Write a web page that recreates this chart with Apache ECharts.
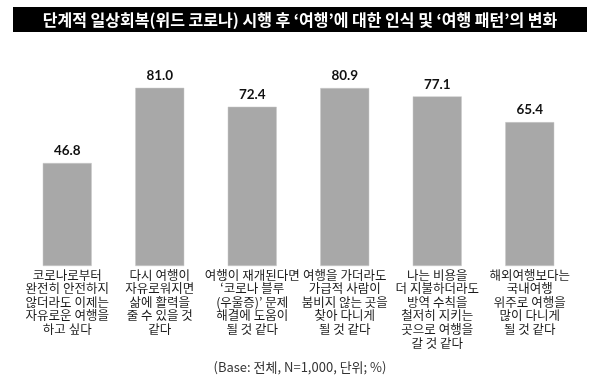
<!DOCTYPE html>
<html><head><meta charset="utf-8">
<script src="https://cdn.jsdelivr.net/npm/echarts@6/dist/echarts.min.js"></script>
<style>html,body{margin:0;padding:0;background:#fff}#c{width:600px;height:384px}</style>
</head><body><div id="c"></div>
<script>
const titleText = "단계적 일상회복(위드 코로나) 시행 후 ‘여행’에 대한 인식 및 ‘여행 패턴’의 변화";
const noteText = "(Base: 전체, N=1,000, 단위; %)";
const categories = [
  "코로나로부터\n완전히 안전하지\n않더라도 이제는\n자유로운 여행을\n하고 싶다",
  "다시 여행이\n자유로워지면\n삶에 활력을\n줄 수 있을 것\n같다",
  "여행이 재개된다면\n‘코로나 블루\n(우울증)’ 문제\n해결에 도움이\n될 것 같다",
  "여행을 가더라도\n가급적 사람이\n붐비지 않는 곳을\n찾아 다니게\n될 것 같다",
  "나는 비용을\n더 지불하더라도\n방역 수칙을\n철저히 지키는\n곳으로 여행을\n갈 것 같다",
  "해외여행보다는\n국내여행\n위주로 여행을\n많이 다니게\n될 것 같다"
];
const values = [46.8, 81.0, 72.4, 80.9, 77.1, 65.4];

const FONT = '"Noto Sans CJK KR", sans-serif';
const chart = echarts.init(document.getElementById('c'), null, {renderer:'canvas'});
chart.setOption({
  animation: false,
  backgroundColor: '#fff',
  graphic: [{
    type: 'rect', shape: {x: 13, y: 7, width: 574, height: 25}, style: {fill: '#000'}, z: 0
  }, {
    type: 'text', left: 'center', top: 361,
    style: {text: noteText, fill: '#333', fontSize: 13, fontFamily: FONT}
  }],
  title: {
    text: titleText, left: 'center', top: 9, padding: 0,
    textStyle: {color: '#fff', fontSize: 16, fontWeight: 'bold', fontFamily: FONT, lineHeight: 21}
  },
  grid: {left: 21, right: 24, top: 46, bottom: 118, containLabel: false},
  xAxis: {
    type: 'category', data: categories,
    axisLine: {show: false}, axisTick: {show: false},
    axisLabel: {interval: 0, margin: 2, color: '#1a1a1a', fontSize: 12.5, lineHeight: 13.6,
      fontFamily: FONT, verticalAlign: 'top'}
  },
  yAxis: {type: 'value', min: 0, max: 100, show: false, splitLine: {show: false}},
  series: [{
    type: 'bar', data: values, barWidth: 49,
    itemStyle: {color: '#a8a8a8', borderColor: '#c8c8c8', borderWidth: 0.5},
    label: {show: true, position: 'top', distance: 5, color: '#111', fontSize: 13.5, fontWeight: 'bold',
      fontFamily: 'Lato, sans-serif', formatter: p => p.value.toFixed(1)}
  }]
});
</script></body></html>
